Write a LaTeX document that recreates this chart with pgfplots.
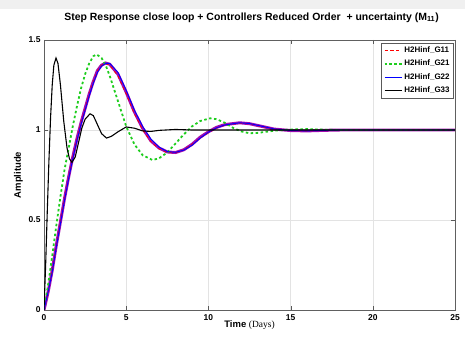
\documentclass[border=0pt]{standalone}
\usepackage{fontspec}
\setmainfont{Liberation Sans}
\newfontfamily\seriffont{Liberation Serif}
\usepackage{pgfplots}
\pgfplotsset{compat=1.18}
\definecolor{mgreen}{RGB}{30,205,30}
\definecolor{mpurple}{RGB}{165,10,175}
\begin{document}
\begin{tikzpicture}[x=1bp,y=1bp]
\fill[gray!12] (0,329) rectangle (465,338);
\begin{axis}[
  at={(44bp,28bp)}, anchor=south west,
  scale only axis, width=411bp, height=270bp,
  xmin=0, xmax=25, ymin=0, ymax=1.5,
  xtick={0,5,10,15,20,25}, ytick={0,0.5,1,1.5},
  yticklabels={0,0.5,1,1.5},
  grid=major, major grid style={gray!22, line width=0.4pt},
  axis line style={gray!75!black, line width=0.7pt},
  tick style={gray!70!black},
  tick align=inside, ticklabel style={font=\fontsize{8.5}{9}\selectfont\bfseries},
  xticklabel style={yshift=-1bp},
  /pgf/number format/assume math mode=true,
  title={\fontsize{10.5}{12}\selectfont\bfseries Step Response close loop + Controllers Reduced Order\ \ + uncertainty (M\textsubscript{11})},
  title style={at={(0.505,1)}, anchor=south, yshift=8bp},
  xlabel={\fontsize{9.5}{10}\selectfont\bfseries Time {\seriffont\mdseries (Days)}},
  ylabel={\fontsize{9.5}{10}\selectfont\bfseries Amplitude},
  xlabel style={yshift=7bp}, ylabel style={yshift=-1bp},
  legend style={at={(0.997,0.99)}, anchor=north east, font=\fontsize{8}{9}\selectfont\bfseries,
    draw=gray!70!black, inner sep=2pt, row sep=2pt, cells={anchor=west}},
]
% uncertainty band (purple blend of G11/G22)
\addplot[mpurple, line width=3pt, forget plot] coordinates {
(0,0) (0.25,0.1) (0.5,0.22) (0.75,0.36) (1.0,0.49) (1.25,0.62) (1.5,0.74) (1.75,0.85) (2.0,0.95) (2.25,1.04) (2.5,1.12) (2.75,1.2) (3.0,1.27) (3.25,1.33) (3.5,1.36) (3.75,1.372) (4.0,1.365) (4.5,1.31) (5.0,1.21) (5.5,1.1) (6.0,1.01) (6.5,0.94) (7.0,0.9) (7.5,0.878) (8.0,0.875) (8.5,0.89) (9.0,0.92) (9.5,0.96) (10.0,0.99) (10.5,1.015) (11,1.03) (11.9,1.04) (12.5,1.035) (13,1.025) (14,1.005) (15,0.997) (16,0.995) (17,0.998) (18,1.0) (25,1.0)};
\addplot[red, dashed, line width=0.8pt] coordinates {
(0,0) (0.25,0.1) (0.5,0.22) (0.75,0.36) (1.0,0.49) (1.25,0.62) (1.5,0.74) (1.75,0.85) (2.0,0.95) (2.25,1.04) (2.5,1.12) (2.75,1.2) (3.0,1.27) (3.25,1.33) (3.5,1.36) (3.75,1.37) (4.0,1.36) (4.5,1.3) (5.0,1.2) (5.5,1.09) (6.0,1.0) (6.5,0.935) (7.0,0.895) (7.5,0.875) (8.0,0.873) (8.5,0.89) (9.0,0.92) (9.5,0.955) (10.0,0.985) (10.5,1.01) (11,1.027) (11.9,1.038) (12.5,1.034) (13,1.024) (14,1.005) (15,0.997) (16,0.995) (17,0.998) (18,1.0) (25,1.0)};
\addlegendentry{H2Hinf\_G11}
\addplot[mgreen, dashed, dash pattern=on 2.5pt off 2.5pt, line width=1.8pt] coordinates {
(0,0) (0.25,0.14) (0.5,0.3) (0.75,0.47) (1.0,0.63) (1.25,0.78) (1.5,0.9) (1.75,1.02) (2.0,1.13) (2.25,1.23) (2.5,1.31) (2.75,1.37) (3.0,1.41) (3.2,1.42) (3.5,1.40) (3.75,1.36) (4.0,1.3) (4.5,1.16) (5.0,1.02) (5.5,0.92) (6.0,0.86) (6.6,0.833) (7.0,0.843) (7.5,0.875) (8.0,0.925) (8.5,0.975) (9.0,1.02) (9.5,1.05) (10.1,1.065) (10.5,1.06) (11,1.04) (11.5,1.012) (12,0.992) (12.5,0.982) (13,0.984) (13.5,0.99) (14,0.996) (15,1.003) (16,1.005) (17,1.002) (18,1.0) (25,1.0)};
\addlegendentry{H2Hinf\_G21}
\addplot[blue, line width=0.9pt] coordinates {
(0,0) (0.25,0.1) (0.5,0.21) (0.75,0.35) (1.0,0.48) (1.25,0.61) (1.5,0.73) (1.75,0.84) (2.0,0.94) (2.25,1.03) (2.5,1.11) (2.75,1.19) (3.0,1.26) (3.25,1.32) (3.5,1.355) (3.75,1.37) (4.0,1.37) (4.5,1.32) (5.0,1.22) (5.5,1.11) (6.0,1.02) (6.5,0.95) (7.0,0.905) (7.5,0.88) (8.0,0.876) (8.5,0.888) (9.0,0.915) (9.5,0.955) (10.0,0.988) (10.5,1.012) (11,1.028) (11.9,1.04) (12.5,1.036) (13,1.026) (14,1.006) (15,0.997) (16,0.995) (17,0.998) (18,1.0) (25,1.0)};
\addlegendentry{H2Hinf\_G22}
\addplot[black, line width=1.1pt] coordinates {
(0,0) (0.1,0.25) (0.2,0.55) (0.3,0.83) (0.4,1.07) (0.5,1.25) (0.6,1.36) (0.73,1.40) (0.85,1.37) (1.0,1.25) (1.2,1.05) (1.4,0.9) (1.55,0.84) (1.7,0.82) (1.9,0.85) (2.1,0.93) (2.3,1.01) (2.5,1.06) (2.8,1.09) (3.0,1.08) (3.2,1.04) (3.5,0.98) (3.8,0.955) (4.1,0.965) (4.5,0.99) (5.0,1.017) (5.5,1.01) (6.0,0.995) (6.5,0.992) (7,0.998) (8,1.003) (9,1.0) (25,1.0)};
\addlegendentry{H2Hinf\_G33}
\end{axis}
\pgfresetboundingbox
\useasboundingbox (0,0) rectangle (465,338);
\end{tikzpicture}
\end{document}
